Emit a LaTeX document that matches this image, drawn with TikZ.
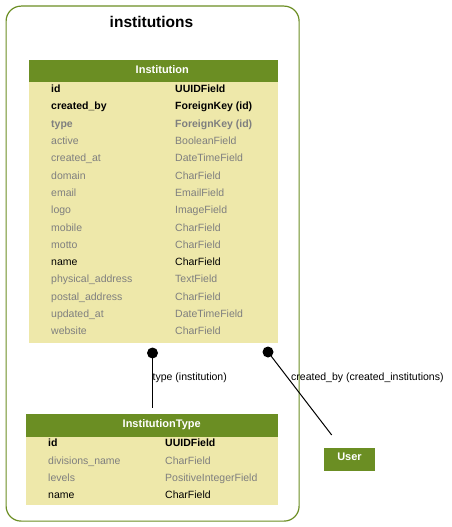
\documentclass[tikz,border=0pt]{standalone}
\usepackage{fontspec}
\setmainfont{Liberation Sans}
\definecolor{hdr}{HTML}{6B8E23}
\definecolor{bodyc}{HTML}{EEE8AA}
\definecolor{fg}{HTML}{7F7F7F}
\tikzset{
  fld/.style={anchor=base west, inner sep=0pt},
  hdrtxt/.style={anchor=base, inner sep=0pt, text=white, font=\fontsize{11}{13}\selectfont\bfseries},
  hdrbox/.style={fill=hdr, draw=none, anchor=north west, inner sep=0pt},
  bodybox/.style={fill=bodyc, draw=none, anchor=north west, inner sep=0pt},
  dotc/.style={circle, fill=black, inner sep=0pt, minimum size=11pt},
  conn/.style={draw=black, line width=1pt},
  lbl/.style={anchor=base west, inner sep=0pt, font=\fontsize{10.5}{12}\selectfont},
}
\begin{document}
\begin{tikzpicture}[x=1pt,y=-1pt]
\useasboundingbox (0,0) rectangle (452,527);
% cluster
\node[draw=hdr, line width=1.2pt, rounded corners=15pt, anchor=north west, inner sep=0pt,
      minimum width=293pt, minimum height=515pt] (cluster) at (5.5,5.5) {};
\node[anchor=base, inner sep=0pt, font=\fontsize{15.5}{18}\selectfont\bfseries] (ctitle) at (151.5,28) {institutions};

% Institution table
\node[bodybox, minimum width=249pt, minimum height=261pt] (instB) at (29,82) {};
\node[hdrbox, minimum width=249pt, minimum height=22pt] (instH) at (29,60) {};
\node[hdrtxt] (instT) at (162.3,74) {Institution};
\foreach \l/\r/\c/\w [count=\i from 0] in {
  id/UUIDField/black/\bfseries,
  created\_by/ForeignKey (id)/black/\bfseries,
  type/ForeignKey (id)/fg/\bfseries,
  active/BooleanField/fg/\mdseries,
  created\_at/DateTimeField/fg/\mdseries,
  domain/CharField/fg/\mdseries,
  email/EmailField/fg/\mdseries,
  logo/ImageField/fg/\mdseries,
  mobile/CharField/fg/\mdseries,
  motto/CharField/fg/\mdseries,
  name/CharField/black/\mdseries,
  physical\_address/TextField/fg/\mdseries,
  postal\_address/CharField/fg/\mdseries,
  updated\_at/DateTimeField/fg/\mdseries,
  website/CharField/fg/\mdseries}{
  \node[fld, text=\c, font=\fontsize{10.5}{12}\selectfont\w] (il\i) at (51,92.7+17.29*\i) {\l};
  \node[fld, text=\c, font=\fontsize{10.5}{12}\selectfont\w] (ir\i) at (175,92.7+17.29*\i) {\r};
}

% InstitutionType table
\node[bodybox, minimum width=252pt, minimum height=68pt] (typeB) at (26,437) {};
\node[hdrbox, minimum width=252pt, minimum height=23pt] (typeH) at (26,414) {};
\node[hdrtxt] (typeT) at (161.7,427.5) {InstitutionType};
\foreach \l/\r/\c/\w [count=\i from 0] in {
  id/UUIDField/black/\bfseries,
  divisions\_name/CharField/fg/\mdseries,
  levels/PositiveIntegerField/fg/\mdseries,
  name/CharField/black/\mdseries}{
  \node[fld, text=\c, font=\fontsize{10.5}{12}\selectfont\w] (tl\i) at (48,446.7+17.3*\i) {\l};
  \node[fld, text=\c, font=\fontsize{10.5}{12}\selectfont\w] (tr\i) at (165,446.7+17.3*\i) {\r};
}

% User
\node[hdrbox, minimum width=51pt, minimum height=23pt] (userB) at (324,448) {};
\node[hdrtxt] (userT) at (349.5,460.7) {User};

% connectors
\node[dotc] (d1) at (152.5,353) {};
\node[dotc] (d2) at (268,352) {};
\coordinate (e1) at (152.5,407.5);
\coordinate (e2) at (331.7,435);
\draw[conn] (d1.center) -- (e1);
\draw[conn] (d2.center) -- (e2);
\node[lbl] (l1) at (152.5,380.7) {type (institution)};
\node[lbl] (l2) at (291,380.7) {created\_by (created\_institutions)};
\end{tikzpicture}
\end{document}
